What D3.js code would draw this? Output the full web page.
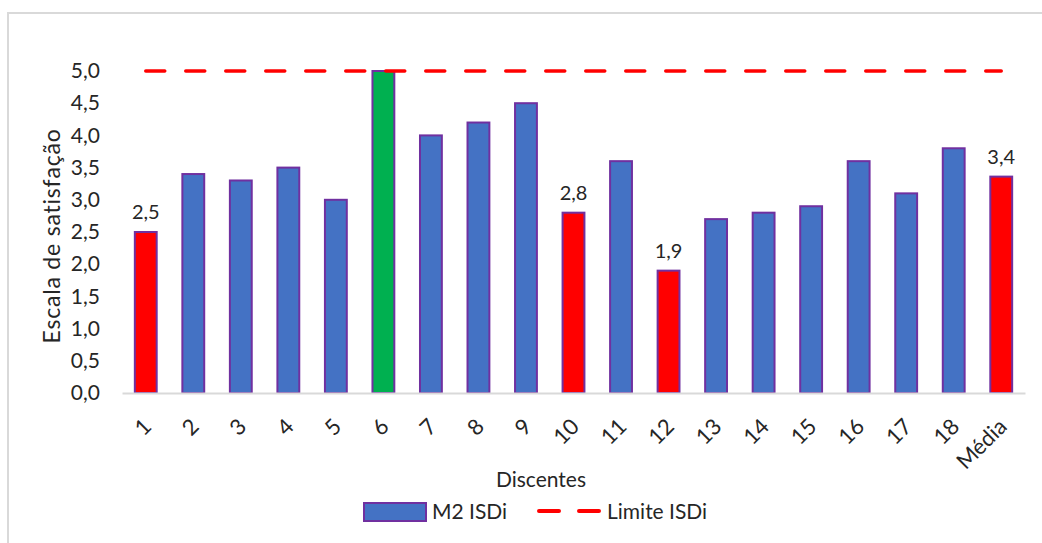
<!DOCTYPE html>
<html>
<head>
<meta charset="utf-8">
<script src="https://cdn.jsdelivr.net/npm/d3@7"></script>
<style>
  body { margin: 0; background: #fff; }
  text { font-family: Lato, "Open Sans", sans-serif; fill: #262626; }
</style>
</head>
<body>
<svg width="1042" height="543"></svg>
<script>
'use strict';

const categories = ['1','2','3','4','5','6','7','8','9','10','11','12','13','14','15','16','17','18','Média'];
const values = [2.5, 3.4, 3.3, 3.5, 3.0, 5.0, 4.0, 4.2, 4.5, 2.8, 3.6, 1.9, 2.7, 2.8, 2.9, 3.6, 3.1, 3.8, 3.36];
const barColors = ['red','blue','blue','blue','blue','green','blue','blue','blue','red','blue','red','blue','blue','blue','blue','blue','blue','red'];
const limite = 5.0;
const labelled = ['1', '10', '12', 'Média'];
const yTicks = [0, 0.5, 1, 1.5, 2, 2.5, 3, 3.5, 4, 4.5, 5];

const palette = { blue: '#4472C4', red: '#FF0000', green: '#00B050' };

const svg = d3.select('svg');
const width = +svg.attr('width');
const height = +svg.attr('height');

// chart border (continues past the right and bottom edges)
svg.append('path')
  .attr('d', `M8,${height} V13 H${width}`)
  .attr('fill', 'none')
  .attr('stroke', '#d9d9d9')
  .attr('stroke-width', 2);

const margin = { top: 71, right: 17, bottom: 150, left: 122 };
const innerWidth = width - margin.left - margin.right;
const innerHeight = height - margin.top - margin.bottom;

const data = categories.map((c, i) => ({ cat: c, value: values[i], color: barColors[i] }));

const xScale = d3.scaleBand()
  .domain(categories)
  .range([0, innerWidth])
  .paddingInner(0.54)
  .paddingOuter(0.27);

const yScale = d3.scaleLinear()
  .domain([0, 5])
  .range([innerHeight, 0]);

const g = svg.append('g')
  .attr('transform', `translate(${margin.left},${margin.top})`);

const fmt = d => d3.format('.1f')(d).replace('.', ',');

// y axis (labels only)
const yAxis = d3.axisLeft(yScale)
  .tickValues(yTicks)
  .tickSize(0)
  .tickPadding(22)
  .tickFormat(fmt);

const yAxisG = g.append('g').call(yAxis);
yAxisG.select('.domain').remove();
yAxisG.selectAll('text')
  .attr('font-size', 21)
  .attr('font-family', null)
  .attr('fill', '#262626');

g.append('text')
  .attr('transform', 'rotate(-90)')
  .attr('x', -165)
  .attr('y', -62)
  .attr('text-anchor', 'middle')
  .attr('font-size', 23)
  .attr('letter-spacing', 0.8)
  .text('Escala de satisfação');

// bars
g.selectAll('rect.bar').data(data)
  .enter().append('rect')
    .attr('class', 'bar')
    .attr('x', d => xScale(d.cat))
    .attr('y', d => yScale(d.value))
    .attr('width', xScale.bandwidth())
    .attr('height', d => innerHeight - yScale(d.value))
    .attr('fill', d => palette[d.color])
    .attr('stroke', '#7030A0')
    .attr('stroke-width', 2);

// x axis
const xAxis = d3.axisBottom(xScale).tickSize(0).tickPadding(0);
const xAxisG = g.append('g')
  .attr('transform', `translate(0,${innerHeight})`)
  .call(xAxis);
xAxisG.select('.domain')
  .attr('stroke', '#d9d9d9')
  .attr('stroke-width', 2);
xAxisG.selectAll('text')
  .attr('font-size', 22)
  .attr('font-family', null)
  .attr('fill', '#262626')
  .attr('text-anchor', 'end')
  .attr('dy', 0)
  .attr('transform', 'translate(7,35) rotate(-45)');

// limit line
const half = xScale.bandwidth() / 2;
g.append('line')
  .attr('x1', xScale(categories[0]) + half)
  .attr('x2', xScale(categories[categories.length - 1]) + half)
  .attr('y1', yScale(limite))
  .attr('y2', yScale(limite))
  .attr('stroke', '#FF0000')
  .attr('stroke-width', 3.5)
  .attr('stroke-dasharray', '19,21')
  .attr('stroke-linecap', 'round');

// data labels
g.selectAll('text.value').data(data.filter(d => labelled.includes(d.cat)))
  .enter().append('text')
    .attr('class', 'value')
    .attr('x', d => xScale(d.cat) + half)
    .attr('y', d => yScale(d.value) - 13)
    .attr('text-anchor', 'middle')
    .attr('font-size', 20)
    .text(d => fmt(d.value));

svg.append('text')
  .attr('x', 541)
  .attr('y', 487)
  .attr('text-anchor', 'middle')
  .attr('font-size', 21)
  .text('Discentes');

// legend
const legend = svg.append('g');
legend.append('rect')
  .attr('x', 364).attr('y', 503)
  .attr('width', 62).attr('height', 18)
  .attr('fill', palette.blue)
  .attr('stroke', '#7030A0')
  .attr('stroke-width', 2);
legend.append('text')
  .attr('x', 432).attr('y', 519)
  .attr('font-size', 21)
  .text('M2 ISDi');
legend.append('line')
  .attr('x1', 539).attr('x2', 599)
  .attr('y1', 511).attr('y2', 511)
  .attr('stroke', '#FF0000')
  .attr('stroke-width', 4)
  .attr('stroke-dasharray', '20,20')
  .attr('stroke-linecap', 'round');
legend.append('text')
  .attr('x', 607).attr('y', 519)
  .attr('font-size', 21)
  .text('Limite ISDi');
</script>
</body>
</html>
